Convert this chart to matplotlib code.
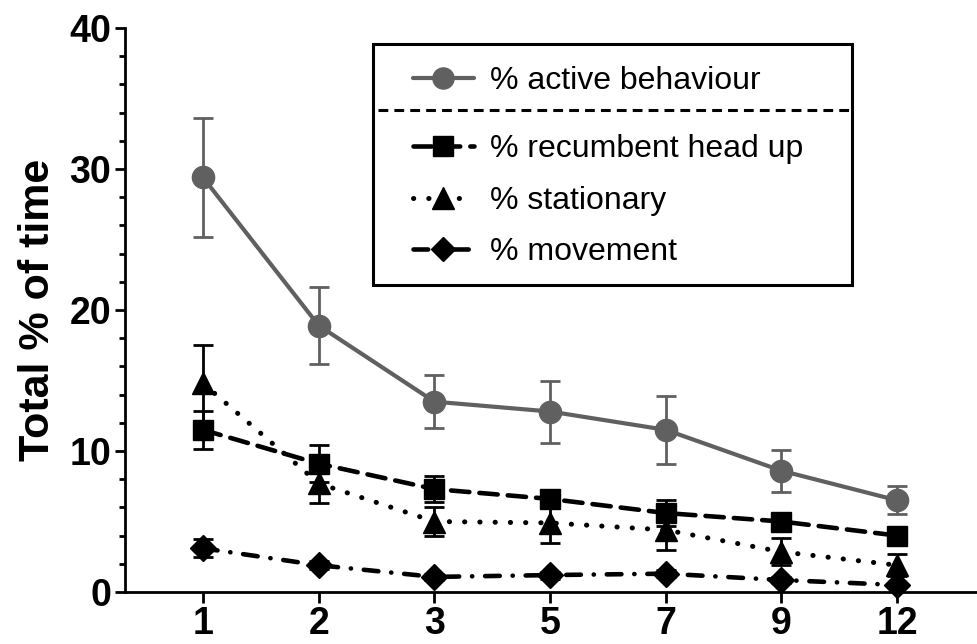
import matplotlib
matplotlib.use("Agg")
import matplotlib.pyplot as plt
from matplotlib.lines import Line2D
from matplotlib.patches import Rectangle
from matplotlib.ticker import MultipleLocator

plt.rcParams['font.family'] = ['Liberation Sans', 'DejaVu Sans']

DAYS = ["1", "2", "3", "5", "7", "9", "12"]

ACTIVE = [29.4, 18.9, 13.5, 12.8, 11.5, 8.6, 6.5]
ACTIVE_SEM = [4.2, 2.7, 1.9, 2.2, 2.4, 1.5, 1.0]
RECUMB = [11.5, 9.1, 7.3, 6.6, 5.6, 5.0, 4.0]
RECUMB_SEM = [1.35, 1.3, 0.9, 0.5, 0.95, 0.5, 0.4]
STATION = [14.8, 7.7, 5.0, 4.9, 4.4, 2.85, 1.9]
STATION_SEM = [2.7, 1.4, 1.0, 1.4, 1.4, 0.95, 0.8]
MOVE = [3.1, 1.9, 1.07, 1.2, 1.3, 0.85, 0.5]
MOVE_SEM = [0.65, 0.3, 0.2, 0.25, 0.25, 0.2, 0.15]

GREY = "#606060"

fig = plt.figure(figsize=(9.77, 6.44), dpi=100)
ax = fig.add_axes([125 / 977, 52 / 644, 852 / 977, 564 / 644])
x = list(range(len(DAYS)))

series = [
    (ACTIVE, ACTIVE_SEM, GREY, "o", 16, 3.0, "-", "% active behaviour"),
    (RECUMB, RECUMB_SEM, "black", "s", 15, 3.3, (0, (4, 2.2)), "% recumbent head up"),
    (STATION, STATION_SEM, "black", "^", 16, 3.6, (0, (0.05, 3.0)), "% stationary"),
    (MOVE, MOVE_SEM, "black", "D", 13, 3.3, (0, (3.2, 2.8, 0.05, 2.8)), "% movement"),
]
handles = []
for vals, sem, col, mk, ms, lw, ls, lab in series:
    ax.errorbar(x, vals, yerr=sem, fmt="none", ecolor=col, elinewidth=2,
                capsize=7, capthick=2, zorder=2)
    h, = ax.plot(x, vals, color=col, lw=lw, ls=ls, marker=mk, ms=ms,
                 dash_capstyle="round", solid_capstyle="round", zorder=3,
                 label=lab, clip_on=False)
    handles.append(h)

ax.set_xlim(-0.674, 6.69)
ax.set_ylim(0, 40)
ax.set_xticks(x)
ax.set_xticklabels(DAYS)
ax.yaxis.set_major_locator(MultipleLocator(10))
ax.yaxis.set_minor_locator(MultipleLocator(2))
for s in ["top", "right"]:
    ax.spines[s].set_visible(False)
for s in ["left", "bottom"]:
    ax.spines[s].set_linewidth(2)
ax.tick_params(axis="both", which="major", width=2, labelsize=27, direction="out")
ax.tick_params(axis="y", which="major", length=7, pad=3)
ax.tick_params(axis="y", which="minor", length=4, width=2)
ax.tick_params(axis="x", which="major", length=8, pad=2)
for t in ax.get_xticklabels() + ax.get_yticklabels():
    t.set_fontweight("bold")
ax.set_ylabel("Total % of time", fontsize=31, fontweight="bold", labelpad=8)

# legend box with divider under the first entry
ax.add_patch(Rectangle((0.291, 0.544), 0.562, 0.428, transform=ax.transAxes,
                       fill=False, lw=2.2, ec="black", zorder=5, clip_on=False))
ax.add_line(Line2D([0.297, 0.853], [0.8546, 0.8546], transform=ax.transAxes,
                   color="black", lw=2.2, ls=(0, (3.2, 2)), zorder=5))
leg1 = ax.legend(handles=handles[:1], loc="upper left",
                 bbox_to_anchor=(0.338, 0.932), frameon=False, fontsize=23,
                 borderpad=0, borderaxespad=0, handlelength=1.9,
                 handletextpad=0.5, markerscale=0.95)
ax.add_artist(leg1)
ax.legend(handles=handles[1:], loc="upper left",
          bbox_to_anchor=(0.338, 0.812), frameon=False, fontsize=23,
          borderpad=0, borderaxespad=0, handlelength=1.9,
          handletextpad=0.5, labelspacing=0.68, markerscale=0.95)

fig.savefig("out.png", dpi=100)
